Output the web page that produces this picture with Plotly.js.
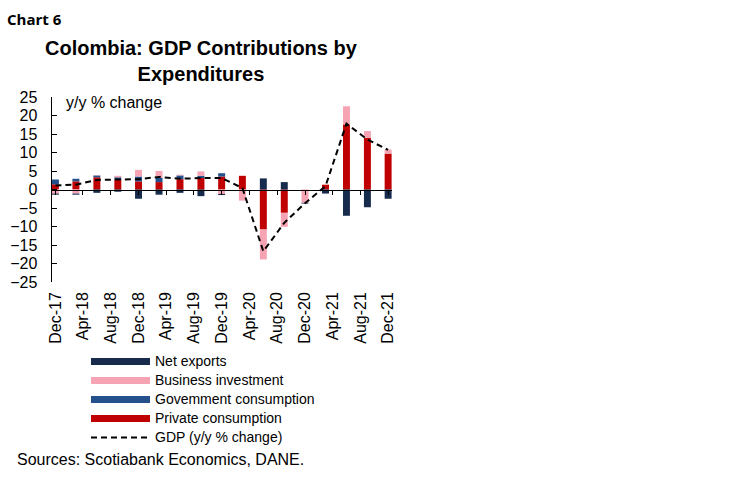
<!DOCTYPE html>
<html>
<head>
<meta charset="utf-8">
<script src="https://cdn.plot.ly/plotly-3.0.1.min.js"></script>
<style>html,body{margin:0;padding:0;background:#fff;}#chart{width:750px;height:478px;}</style>
</head>
<body>
<div id="chart"></div>
<script>
// Quarterly observations (quarter-end months)
const quarters = ['2017-12-01','2018-03-01','2018-06-01','2018-09-01','2018-12-01','2019-03-01','2019-06-01','2019-09-01','2019-12-01','2020-03-01','2020-06-01','2020-09-01','2020-12-01','2021-03-01','2021-06-01','2021-09-01','2021-12-01'];
const privateConsumption = [1.4, 2.2, 3.3, 2.7, 2.2, 2.0, 2.8, 3.1, 3.5, 3.7, -10.8, -6.3, 0.0, 1.3, 17.6, 14.0, 9.7];
const governmentConsumption = [1.3, 0.7, 0.5, 0.6, 1.3, 1.2, 1.0, 0.6, 0.9, 0.0, 0.0, 0.0, 0.0, 0.0, 0.0, 0.0, 0.0];
const businessInvestment = [-1.1, -1.1, 0.1, 0.4, 1.8, 1.8, 0.2, 1.2, -1.2, -3.0, -8.1, -3.8, -3.6, 0.0, 4.9, 1.8, 1.1];
const netExports = [-0.3, -0.3, -0.9, -0.6, -2.5, -1.4, -0.9, -1.8, -0.3, 0.0, 3.0, 2.0, -0.2, -1.1, -7.1, -4.8, -2.5];
const gdp = [1.1, 1.3, 2.6, 2.7, 2.8, 3.4, 2.9, 3.1, 3.1, 0.4, -16.7, -9.0, -3.7, 0.9, 17.8, 13.5, 10.7];
const tickDates = ['2017-12-01','2018-04-01','2018-08-01','2018-12-01','2019-04-01','2019-08-01','2019-12-01','2020-04-01','2020-08-01','2020-12-01','2021-04-01','2021-08-01','2021-12-01'];
const tickLabels = ['Dec-17','Apr-18','Aug-18','Dec-18','Apr-19','Aug-19','Dec-19','Apr-20','Aug-20','Dec-20','Apr-21','Aug-21','Dec-21'];
const seriesNames = ['Net exports','Business investment','Govemment consumption','Private consumption','GDP (y/y % change)'];

const C_NET = '#172b4d', C_BUS = '#f6a3b3', C_GOV = '#24508c', C_PRIV = '#c00000';
const xRange = ['2017-11-16', '2021-12-18'];
const FONT = 'Liberation Sans, Arial, sans-serif';
const lg = s => '<span style="font-size:14px">' + s + '</span>';

const traces = [
  {type:'bar', x: quarters, y: privateConsumption, marker:{color:C_PRIV}, showlegend:false, hoverinfo:'y'},
  {type:'bar', x: quarters, y: governmentConsumption, marker:{color:C_GOV}, showlegend:false, hoverinfo:'y'},
  {type:'bar', x: quarters, y: businessInvestment, marker:{color:C_BUS}, showlegend:false, hoverinfo:'y'},
  {type:'bar', x: quarters, y: netExports, marker:{color:C_NET}, showlegend:false, hoverinfo:'y'},
  {type:'scatter', mode:'lines', x: quarters, y: gdp, xaxis:'x2', line:{color:'#000', width:2, dash:'6px,4px'}, showlegend:false},
  // legend entries
  {type:'scatter', mode:'lines', x:[null], y:[null], name:lg(seriesNames[0]), line:{color:C_NET, width:7}},
  {type:'scatter', mode:'lines', x:[null], y:[null], name:lg(seriesNames[1]), line:{color:C_BUS, width:7}},
  {type:'scatter', mode:'lines', x:[null], y:[null], name:lg(seriesNames[2]), line:{color:C_GOV, width:7}},
  {type:'scatter', mode:'lines', x:[null], y:[null], name:lg(seriesNames[3]), line:{color:C_PRIV, width:7}},
  {type:'scatter', mode:'lines', x:[null], y:[null], name:lg(seriesNames[4]), line:{color:'#000', width:2, dash:'6px,4px'}}
];

const layout = {
  width: 750, height: 478,
  margin: {l:52, r:358, t:97, b:196, pad:0},
  paper_bgcolor:'#fff', plot_bgcolor:'#fff',
  barmode:'relative', bargap:0.66,
  font:{family:FONT, color:'#000', size:16},
  showlegend:true,
  legend:{x:0.1, xanchor:'left', y:-0.352, yanchor:'top', font:{family:FONT, size:11, color:'#000'}, itemwidth:59, bgcolor:'rgba(0,0,0,0)', traceorder:'normal', tracegroupgap:0},
  xaxis:{type:'date', range:xRange, tickmode:'array', tickvals:tickDates, ticktext:tickLabels, tickangle:-90,
         showline:false, showgrid:false, zeroline:false, ticks:'', tickfont:{family:FONT, size:16, color:'#000'}, ticklabelstandoff:6},
  xaxis2:{type:'date', range:xRange, overlaying:'x', anchor:'free', position:0.5, tickmode:'array', tickvals:tickDates,
          showticklabels:false, showline:true, linecolor:'#000', linewidth:1.5, ticks:'outside', ticklen:4, tickcolor:'#000', tickwidth:1, showgrid:false, zeroline:false},
  yaxis:{range:[-25,25], dtick:5, tick0:0, showline:true, linecolor:'#000', linewidth:1.5, ticks:'inside', ticklen:5, tickcolor:'#000',
         showgrid:false, zeroline:false, tickfont:{family:FONT, size:16, color:'#000'}, ticklabelstandoff:10},
  annotations:[
    {text:'<b>Chart 6</b>', xref:'paper', yref:'paper', x:-0.138, y:1.485, xanchor:'left', yanchor:'top', showarrow:false, font:{family:'Open Sans, Noto Sans, sans-serif', size:15, color:'#000'}},
    {text:'<b>Colombia: GDP Contributions by<br>Expenditures</b>', xref:'paper', yref:'paper', x:0.44, y:1.335, xanchor:'center', yanchor:'top', showarrow:false, font:{family:FONT, size:20, color:'#000'}},
    {text:'y/y % change', xref:'paper', yref:'paper', x:0.036, y:0.968, xanchor:'left', yanchor:'middle', showarrow:false, font:{family:FONT, size:16, color:'#000'}},
    {text:'Sources: Scotiabank Economics, DANE.', xref:'paper', yref:'paper', x:-0.11, y:-0.957, xanchor:'left', yanchor:'middle', showarrow:false, font:{family:FONT, size:16, color:'#000'}}
  ]
};

Plotly.newPlot('chart', traces, layout, {displayModeBar:false, staticPlot:true});
</script>
</body>
</html>
